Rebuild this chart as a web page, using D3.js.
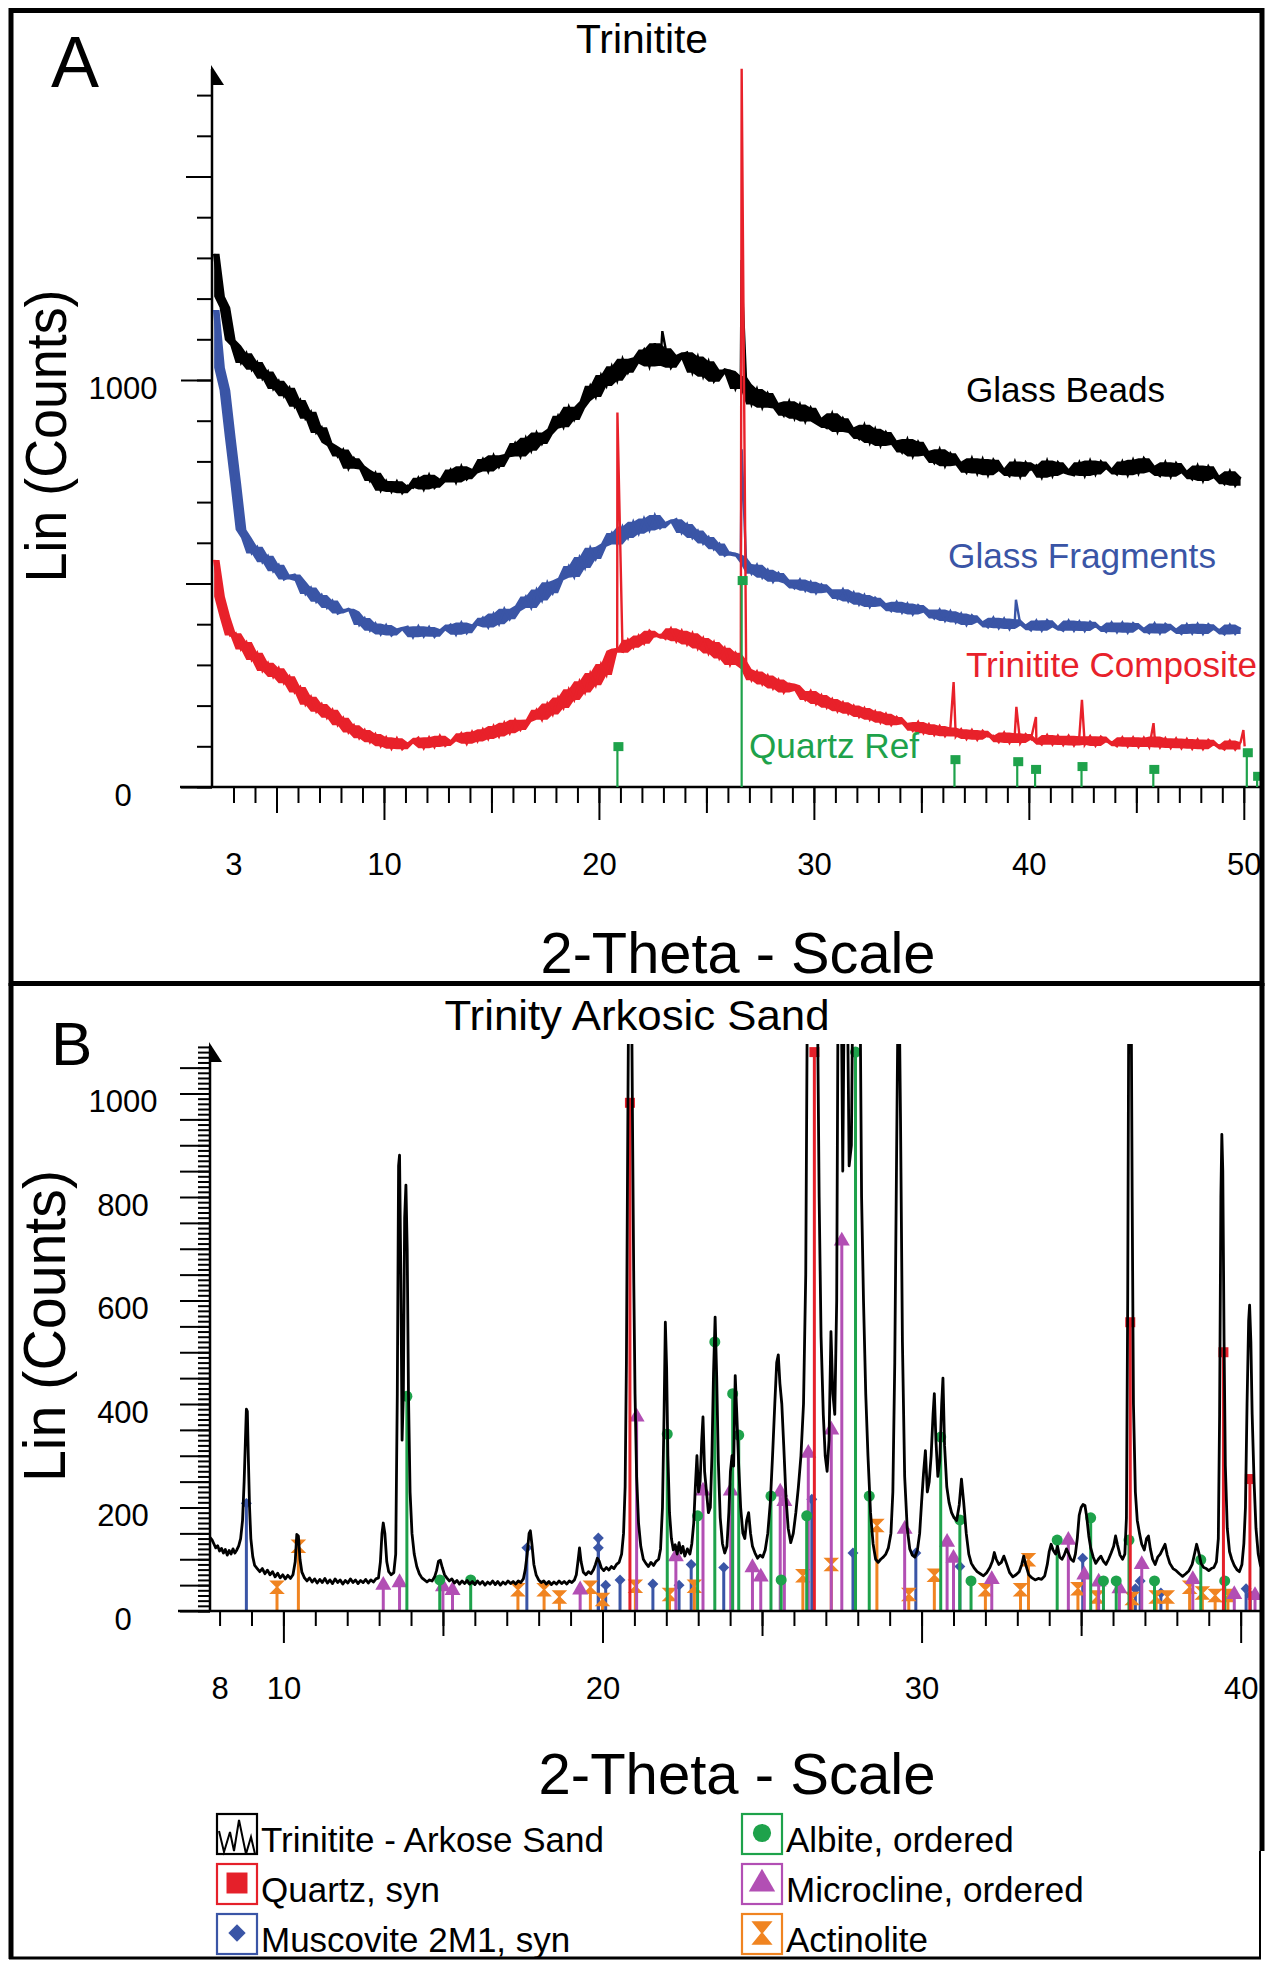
<!DOCTYPE html>
<html>
<head>
<meta charset="utf-8">
<script src="https://cdn.jsdelivr.net/npm/d3@7"></script>
<style>
  body { margin: 0; background: #fff; }
  text { font-family: "Liberation Sans", Arial, Helvetica, sans-serif; }
</style>
</head>
<body>
<div id="chart"></div>
<script>
// XRD patterns - A: Trinitite glass, B: Trinity arkosic sand

const width = 1270, height = 1961;
const font = "'Liberation Sans', Arial, Helvetica, sans-serif";

// ---------- panel A : scans on a 0.25 deg grid starting at 2.1 ----------
const aStart = 2.1, aStep = 0.25;

const beadsCounts = [
  1310,1205,1178,1098,1085,1042,1066,1025,1044,1003,1021,978,998,960,981,934,951,905,922,870,
  884,846,838,812,829,782,808,790,780,752,772,728,752,725,751,722,740,735,760,731,
  767,735,748,758,780,748,788,756,770,782,806,775,815,786,810,818,845,812,858,826,
  871,843,866,880,912,884,934,902,930,948,986,958,1012,985,1034,998,1052,1018,1040,1056,
  1075,1033,1090,1035,1078,1030,1050,1062,1068,1018,1058,1008,1046,996,1014,1026,1022,978,1010,990,
  940,978,932,968,944,930,912,948,905,940,898,932,908,890,882,918,872,906,884,870,
  855,890,845,880,838,872,852,840,822,855,812,848,826,814,796,830,788,820,800,790,
  772,808,770,806,766,804,784,776,764,800,762,798,780,790,760,802,764,798,782,770,
  766,798,764,802,768,800,784,780,768,800,766,804,770,808,790,774,764,798,762,796,
  778,770,756,790,752,788,766,758,744,776,740,762
];
const fragmentsCounts = [
  1172,1030,975,858,748,632,612,574,590,552,568,530,546,510,518,522,506,474,490,455,
  472,440,458,426,432,438,431,398,415,384,402,375,398,372,384,390,394,368,395,370,
  393,369,384,388,399,374,404,378,396,400,416,392,426,400,438,412,432,446,468,440,
  485,458,503,476,508,514,543,516,565,538,588,560,590,598,624,596,640,612,652,622,
  660,630,668,636,648,652,658,624,646,612,630,598,614,584,598,568,576,572,566,548,
  524,546,514,534,504,526,510,500,488,510,482,504,476,498,486,478,462,486,456,478,
  448,472,442,465,452,444,432,455,428,451,424,447,436,428,414,436,408,432,404,426,
  398,422,408,404,392,416,390,414,388,412,400,396,385,409,384,410,396,392,384,409,
  384,407,383,406,394,392,381,404,380,404,379,403,392,388,378,402,377,401,390,386,
  376,400,377,401,376,400,388,386,375,399,376,392
];
const compositeCounts = [
  558,468,418,372,378,338,356,312,330,285,305,270,292,255,272,232,246,202,222,185,
  204,170,190,152,170,134,152,120,140,110,130,100,122,94,120,93,106,110,121,95,
  122,98,126,101,112,116,132,106,136,112,142,118,150,124,158,132,165,140,160,166,
  190,165,205,178,220,194,240,214,260,232,280,250,302,275,335,340,330,362,342,372,
  352,384,370,374,364,390,358,384,350,378,340,366,328,356,316,342,300,330,312,290,
  262,284,252,274,242,264,232,254,250,236,214,236,204,226,195,216,186,208,180,200,
  172,194,165,186,158,180,152,172,158,154,138,160,132,154,128,150,125,146,124,142,
  118,140,116,138,124,126,110,134,108,132,108,130,118,116,104,128,104,126,103,126,
  102,125,104,125,101,124,112,110,100,122,99,122,98,121,98,124,97,120,96,119,
  95,118,94,117,93,116,104,102,92,114,92,110
];

// sharp reflections riding on the scans
const beadsPeakTheta = [22.95, 26.64, 26.70];
const beadsPeakCounts = [1120, 1295, 1180];
const fragmentsPeakTheta = [26.64, 39.40];
const fragmentsPeakCounts = [830, 460];
const compositePeakTheta = [20.86, 26.64, 36.50, 39.42, 40.33, 42.47, 45.80, 49.98, 50.04];
const compositePeakCounts = [920, 1765, 258, 197, 172, 214, 157, 140, 100];

// quartz reference pattern
const quartzRefTheta = [20.86, 26.64, 36.54, 39.46, 40.29, 42.45, 45.79, 50.14, 50.62];
const quartzRefCounts = [98, 506, 66, 61, 42, 49, 42, 83, 25];

const aXLabels = [3, 10, 20, 30, 40, 50];
const aYLabels = [0, 1000];

// ---------- panel B : arkosic sand scan ----------
const sandTheta = [
  7.70,7.76,7.82,7.88,7.94,8.00,8.06,8.12,8.18,8.24,
  8.30,8.36,8.42,8.48,8.54,8.60,8.66,8.72,8.77,8.81,
  8.84,8.87,8.90,8.94,8.98,9.04,9.10,9.18,9.26,9.34,
  9.42,9.50,9.58,9.66,9.74,9.82,9.90,9.98,10.06,10.14,
  10.22,10.30,10.37,10.42,10.47,10.52,10.58,10.66,10.74,10.82,
  10.90,10.98,11.06,11.14,11.22,11.30,11.38,11.46,11.54,11.62,
  11.70,11.78,11.86,11.94,12.02,12.10,12.18,12.26,12.34,12.42,
  12.50,12.58,12.66,12.74,12.82,12.90,12.98,13.04,13.09,13.13,
  13.18,13.24,13.30,13.38,13.46,13.52,13.57,13.61,13.64,13.68,
  13.72,13.76,13.80,13.84,13.88,13.92,13.97,14.03,14.10,14.18,
  14.26,14.34,14.42,14.50,14.58,14.66,14.74,14.80,14.86,14.92,
  14.98,15.05,15.12,15.20,15.28,15.36,15.44,15.52,15.60,15.68,
  15.76,15.84,15.92,16.00,16.08,16.16,16.24,16.32,16.40,16.48,
  16.56,16.64,16.72,16.80,16.88,16.96,17.04,17.12,17.20,17.28,
  17.36,17.44,17.52,17.58,17.64,17.70,17.74,17.79,17.85,17.92,
  18.00,18.08,18.16,18.24,18.32,18.40,18.48,18.56,18.64,18.72,
  18.80,18.88,18.96,19.04,19.12,19.18,19.24,19.28,19.33,19.40,
  19.48,19.56,19.64,19.72,19.78,19.84,19.90,19.96,20.04,20.12,
  20.20,20.28,20.36,20.44,20.52,20.60,20.66,20.71,20.75,20.79,
  20.83,20.90,20.94,20.98,21.02,21.07,21.13,21.20,21.28,21.36,
  21.44,21.52,21.60,21.68,21.76,21.82,21.88,21.93,21.97,22.01,
  22.05,22.10,22.16,22.22,22.28,22.34,22.40,22.46,22.52,22.58,
  22.66,22.74,22.80,22.86,22.91,22.96,23.01,23.06,23.11,23.15,
  23.20,23.26,23.32,23.38,23.43,23.48,23.53,23.58,23.63,23.69,
  23.76,23.83,23.90,23.96,24.01,24.06,24.11,24.16,24.21,24.27,
  24.33,24.40,24.46,24.52,24.58,24.64,24.70,24.78,24.86,24.94,
  25.02,25.10,25.18,25.26,25.33,25.40,25.46,25.51,25.56,25.62,
  25.68,25.75,25.82,25.90,25.98,26.06,26.14,26.22,26.30,26.37,
  26.43,26.52,26.62,26.72,26.79,26.85,26.92,26.98,27.04,27.10,
  27.16,27.22,27.28,27.34,27.39,27.47,27.53,27.59,27.66,27.73,
  27.80,27.86,28.06,28.12,28.18,28.25,28.32,28.40,28.48,28.56,
  28.64,28.72,28.80,28.88,28.96,29.04,29.10,29.16,29.22,29.28,
  29.34,29.40,29.47,29.55,29.63,29.71,29.79,29.87,29.94,30.00,
  30.06,30.12,30.18,30.24,30.30,30.36,30.40,30.45,30.51,30.57,
  30.63,30.67,30.72,30.79,30.86,30.94,31.02,31.10,31.18,31.25,
  31.32,31.40,31.48,31.56,31.64,31.74,31.84,31.94,32.04,32.14,
  32.22,32.28,32.34,32.42,32.50,32.58,32.66,32.76,32.86,32.96,
  33.06,33.14,33.20,33.27,33.36,33.46,33.56,33.66,33.76,33.86,
  33.94,34.00,34.06,34.12,34.20,34.26,34.33,34.40,34.47,34.54,
  34.60,34.68,34.76,34.82,34.88,34.94,35.00,35.06,35.12,35.18,
  35.24,35.30,35.38,35.46,35.54,35.62,35.70,35.78,35.86,35.94,
  36.02,36.08,36.14,36.22,36.30,36.37,36.42,36.46,36.50,36.56,
  36.60,36.64,36.70,36.76,36.83,36.90,36.98,37.05,37.11,37.17,
  37.24,37.32,37.40,37.48,37.56,37.63,37.70,37.78,37.88,37.98,
  38.08,38.18,38.28,38.38,38.48,38.56,38.62,38.68,38.76,38.84,
  38.92,39.00,39.08,39.16,39.24,39.30,39.34,39.38,39.41,39.44,
  39.48,39.52,39.58,39.65,39.72,39.80,39.88,39.96,40.04,40.10,
  40.15,40.20,40.25,40.28,40.32,40.36,40.42,40.48,40.55,40.62,
  40.70
];
const sandCounts = [
  142,138,130,122,126,116,121,112,119,108,
  117,110,120,112,118,126,140,175,250,330,
  390,386,300,200,140,105,88,82,76,82,
  72,79,70,76,66,73,64,70,62,69,
  63,70,95,148,145,100,75,64,58,64,
  56,62,54,61,55,63,54,60,53,62,
  55,60,52,59,54,62,55,60,53,59,
  55,61,54,60,56,62,64,95,150,170,
  150,95,76,70,74,110,420,860,881,650,
  330,420,760,823,700,420,230,150,110,86,
  72,64,60,56,60,58,66,78,96,98,
  84,70,64,58,62,54,59,52,58,53,
  59,52,57,51,58,52,57,50,56,52,
  58,51,57,50,56,52,58,53,57,52,
  58,55,62,80,110,150,155,128,90,70,
  60,55,58,52,57,51,56,52,58,53,
  57,52,58,55,60,70,100,122,95,75,
  70,76,72,80,90,102,96,84,78,84,
  79,86,82,90,94,110,150,240,480,900,
  1300,1300,950,640,420,260,170,125,100,92,
  86,94,88,96,100,120,200,380,558,470,
  300,190,140,118,128,110,132,112,125,106,
  120,110,130,170,240,300,230,250,330,375,
  270,230,190,200,300,460,568,450,290,180,
  130,112,125,190,270,300,280,455,380,280,
  200,150,140,175,190,150,125,112,102,108,
  104,118,150,210,300,400,480,495,440,400,
  320,220,160,132,150,190,240,300,400,650,
  1300,1400,1400,1300,800,530,380,300,270,330,
  540,420,380,600,1300,1300,850,1300,1300,860,
  900,1300,1300,800,600,420,300,190,130,100,
  94,100,104,110,122,150,230,480,900,1300,
  950,520,260,160,120,108,104,118,150,210,
  265,310,230,250,300,380,420,330,260,290,
  400,450,320,240,210,190,180,175,205,255,
  210,150,110,92,84,76,72,68,74,84,
  96,113,100,90,94,106,92,74,66,70,
  76,90,106,88,70,64,60,63,61,68,
  90,115,129,118,110,125,104,100,108,120,
  112,100,96,110,140,185,200,206,204,180,
  145,122,104,92,100,106,96,90,100,112,
  125,145,128,108,100,110,180,600,1300,1300,
  800,400,230,175,150,129,118,140,145,120,
  100,90,104,110,120,129,108,92,82,78,
  72,67,72,78,90,112,129,115,92,84,
  82,78,82,84,95,140,380,800,921,850,
  520,280,160,115,100,88,80,76,90,130,
  200,400,560,591,520,380,250,160,110,88,
  78
];

// reference patterns (stick positions and heights)
const quartzTheta = [20.86, 26.64, 36.54, 39.46, 40.29];
const quartzCounts = [982, 1080, 558, 500, 255];
const albiteTheta = [13.87, 14.90, 15.87, 22.03, 22.98, 23.52, 24.08, 24.27, 25.28, 25.60, 26.40, 27.93,
  28.36, 30.60, 31.20, 31.55, 34.25, 35.30, 35.70, 36.10, 36.50, 37.30, 38.75, 39.50];
const albiteCounts = [415, 60, 60, 342, 184, 520, 420, 340, 222, 60, 184, 1080,
  222, 336, 176, 58, 137, 180, 58, 58, 137, 58, 99, 58];
const microclineTheta = [13.13, 13.64, 15.00, 15.30, 19.30, 21.07, 22.30, 23.15, 24.02, 24.70, 24.96, 25.57,
  25.70, 26.45, 27.17, 27.50, 29.47, 30.80, 31.00, 32.20, 34.60, 35.10, 35.55, 36.20, 36.90, 38.50, 39.80, 40.45];
const microclineCounts = [50, 55, 47, 40, 41, 375, 105, 232, 232, 84, 66, 230,
  212, 305, 350, 715, 158, 133, 102, 61, 137, 70, 56, 43, 90, 61, 32, 30];
const muscoviteTheta = [8.84, 17.63, 19.87, 19.87, 20.10, 20.55, 21.58, 22.40, 22.78, 23.80, 26.56, 27.85,
  29.82, 31.20, 35.05, 36.70, 36.85, 37.50, 40.17, 40.30];
const muscoviteCounts = [208, 122, 141, 122, 50, 60, 52, 50, 90, 84, 216, 112,
  112, 86, 102, 43, 58, 35, 43, 30];
const actinoliteTheta = [9.80, 10.47, 17.35, 18.17, 18.65, 19.62, 20.00, 21.03, 22.10, 22.88, 26.28, 27.17,
  28.60, 29.60, 30.40, 32.00, 33.10, 33.35, 34.90, 35.50, 36.60, 37.35, 37.70, 38.40, 38.80, 39.20, 39.60];
const actinoliteCounts = [46, 125, 41, 41, 27, 46, 22, 48, 32, 48, 68, 90,
  165, 32, 69, 41, 41, 99, 43, 27, 24, 27, 27, 46, 35, 30, 30];

const bXLabels = [8, 10, 20, 30, 40];
const bYLabels = [0, 200, 400, 600, 800, 1000];

const col = {
  black: "#000", blue: "#3a55a6", red: "#e5202a", green: "#1ea24b",
  purple: "#b24fb4", orange: "#f08421"
};

const svg = d3.select("#chart")
  .append("svg")
  .attr("width", width)
  .attr("height", height)
  .attr("viewBox", [0, 0, width, height])
  .style("background", "#fff");

const xA = d3.scaleLinear().domain([2, 50.8]).range([212, 1261]);
const yA = d3.scaleLinear().domain([0, 1000]).range([787, 380]);
const xB = d3.scaleLinear().domain([7.7, 40.7]).range([210, 1263]);
const yB = d3.scaleLinear().domain([0, 1000]).range([1611, 1093.5]);

// ---- axis helpers ----
function bottomTicks(x, y0, values, size) {
  svg.append("g")
    .attr("transform", `translate(0,${y0})`)
    .call(d3.axisBottom(x).tickValues(values).tickSize(size).tickFormat(""))
    .call(g => g.select(".domain").remove())
    .call(g => g.selectAll("line").attr("stroke", "#000").attr("stroke-width", 2));
}
function leftTicks(y, x0, values, size) {
  svg.append("g")
    .attr("transform", `translate(${x0},0)`)
    .call(d3.axisLeft(y).tickValues(values).tickSize(size).tickFormat(""))
    .call(g => g.select(".domain").remove())
    .call(g => g.selectAll("line").attr("stroke", "#000").attr("stroke-width", 2));
}
function bottomLabels(x, y0, values) {
  svg.append("g")
    .attr("transform", `translate(0,${y0})`)
    .call(d3.axisBottom(x).tickValues(values).tickSize(0).tickPadding(66))
    .call(g => g.select(".domain").remove())
    .call(g => g.selectAll("text").attr("font-size", 31).attr("font-family", font).attr("fill", "#000"));
}
function leftLabels(y, values) {
  svg.append("g").selectAll("text")
    .data(values)
    .join("text")
    .attr("x", 123)
    .attr("y", d => y(d) + 8)
    .attr("dy", "0.35em")
    .attr("text-anchor", "middle")
    .attr("font-size", 31)
    .text(d => d);
}
function axisFrame(x, y, topY) {
  const x0 = x.range()[0], y0 = y.range()[0];
  svg.append("line").attr("x1", x0 - 32).attr("x2", x.range()[1]).attr("y1", y0).attr("y2", y0)
    .attr("stroke", "#000").attr("stroke-width", 2.5);
  svg.append("line").attr("x1", x0).attr("x2", x0).attr("y1", y0).attr("y2", topY + 4)
    .attr("stroke", "#000").attr("stroke-width", 2.5);
  svg.append("path")   // half arrow head on the intensity axis
    .attr("d", `M${x0 - 1},${topY} L${x0 - 1},${topY + 20} L${x0 + 12},${topY + 20} Z`)
    .attr("fill", "#000");
}
function text(x, y, str, size, fill, len, anchor) {
  const t = svg.append("text")
    .attr("x", x).attr("y", y)
    .attr("font-size", size)
    .attr("fill", fill || "#000")
    .attr("text-anchor", anchor || "start")
    .text(str);
  if (len) t.attr("textLength", len).attr("lengthAdjust", "spacingAndGlyphs");
  return t;
}

// ================= PANEL A =================
bottomTicks(xA, 787, d3.range(3, 51), 16);
bottomTicks(xA, 787, [5, 15, 25, 35, 45], 26);
bottomTicks(xA, 787, [10, 20, 30, 40, 50], 33);
bottomLabels(xA, 787, aXLabels);
leftTicks(yA, 212, d3.range(0, 1800, 100), 15);
leftTicks(yA, 212, [500, 1500], 26);
leftTicks(yA, 212, [0, 1000], 31);
leftLabels(yA, aYLabels);
axisFrame(xA, yA, 65);

const aTheta = d3.range(beadsCounts.length).map(i => aStart + aStep * i);
function scanPoints(counts, peakTheta, peakCounts) {
  return d3.zip(aTheta, counts)
    .concat(d3.zip(peakTheta, peakCounts))
    .sort((a, b) => a[0] - b[0]);
}
// noise band: shade between the neighbouring readings so the scatter reads as a band
function noiseBand(counts) {
  return counts.map((v, i) => {
    const w = counts.slice(Math.max(0, i - 1), i + 2);
    return [aTheta[i], d3.min(w), d3.max(w)];
  });
}
const lineA = d3.line().x(d => xA(d[0])).y(d => yA(d[1]));
const bandA = d3.area().x(d => xA(d[0])).y0(d => yA(d[1])).y1(d => yA(d[2]));

const scansA = [
  { counts: beadsCounts, pts: scanPoints(beadsCounts, beadsPeakTheta, beadsPeakCounts), color: col.black },
  { counts: fragmentsCounts, pts: scanPoints(fragmentsCounts, fragmentsPeakTheta, fragmentsPeakCounts), color: col.blue },
  { counts: compositeCounts, pts: scanPoints(compositeCounts, compositePeakTheta, compositePeakCounts), color: "#e8212a" }
];
const scanG = svg.append("g").selectAll("g")
  .data(scansA)
  .join("g");
scanG.append("path")
  .attr("d", d => bandA(noiseBand(d.counts)))
  .attr("fill", d => d.color)
  .attr("stroke", "none");
scanG.append("path")
  .attr("d", d => lineA(d.pts))
  .attr("fill", "none")
  .attr("stroke", d => d.color)
  .attr("stroke-width", 2.4)
  .attr("stroke-linejoin", "miter");

const qRef = d3.zip(quartzRefTheta, quartzRefCounts);
const qg = svg.append("g");
qg.selectAll("line").data(qRef).join("line")
  .attr("x1", d => xA(d[0])).attr("x2", d => xA(d[0]))
  .attr("y1", yA(0)).attr("y2", d => yA(d[1]))
  .attr("stroke", col.green).attr("stroke-width", 2.2);
qg.selectAll("rect").data(qRef).join("rect")
  .attr("x", d => xA(d[0]) - 4).attr("y", d => yA(d[1]) - 5)
  .attr("width", 10).attr("height", 9)
  .attr("fill", col.green);

text(51, 87, "A", 72);
text(642, 53, "Trinitite", 40, "#000", 132, "middle");
text(966, 402, "Glass Beads", 35, col.black, 199);
text(948, 568, "Glass Fragments", 35, col.blue, 268);
text(966, 677, "Trinitite Composite", 35, "#e8212a", 291);
text(749, 758, "Quartz Ref", 35, col.green, 170);
text(738, 973, "2-Theta - Scale", 57, "#000", 395, "middle");
svg.append("text")
  .attr("transform", "translate(66,436) rotate(-90)")
  .attr("text-anchor", "middle")
  .attr("font-size", 58)
  .attr("textLength", 293)
  .attr("lengthAdjust", "spacingAndGlyphs")
  .text("Lin (Counts)");

// ================= PANEL B =================
bottomTicks(xB, 1611, d3.range(8, 41), 15);
bottomTicks(xB, 1611, [15, 25, 35], 25);
bottomTicks(xB, 1611, [10, 20, 30, 40], 32);
bottomLabels(xB, 1611, bXLabels);
leftTicks(yB, 210, d3.range(0, 1100, 10), 12);
leftTicks(yB, 210, d3.range(0, 1100, 50), 30);
leftLabels(yB, bYLabels);

svg.append("clipPath").attr("id", "clipB")
  .append("rect").attr("x", 210).attr("y", 1044).attr("width", 1052).attr("height", 580);
const plotB = svg.append("g").attr("clip-path", "url(#clipB)");

const hourglass = "M-6,-6 L6,-6 L-6,6 L6,6 Z";
const phases = [
  { theta: muscoviteTheta, counts: muscoviteCounts, color: col.blue,
    sym: d3.symbol().type(d3.symbolSquare).size(60)(), rot: 45 },
  { theta: actinoliteTheta, counts: actinoliteCounts, color: col.orange, sym: hourglass, rot: 0 },
  { theta: microclineTheta, counts: microclineCounts, color: col.purple,
    sym: d3.symbol().type(d3.symbolTriangle).size(110)(), rot: 0 },
  { theta: albiteTheta, counts: albiteCounts, color: col.green,
    sym: d3.symbol().type(d3.symbolCircle).size(95)(), rot: 0 },
  { theta: quartzTheta, counts: quartzCounts, color: col.red,
    sym: d3.symbol().type(d3.symbolSquare).size(100)(), rot: 0 }
];

phases.forEach(p => {
  const sticks = d3.zip(p.theta, p.counts);
  const g = plotB.append("g");
  g.selectAll("line").data(sticks).join("line")
    .attr("x1", d => xB(d[0])).attr("x2", d => xB(d[0]))
    .attr("y1", yB(0)).attr("y2", d => yB(d[1]))
    .attr("stroke", p.color).attr("stroke-width", 3);
  g.selectAll("path").data(sticks).join("path")
    .attr("d", p.sym)
    .attr("transform", d => `translate(${xB(d[0])},${yB(d[1])}) rotate(${p.rot})`)
    .attr("fill", p.color)
    .attr("stroke", p.color)
    .attr("stroke-width", p.sym === hourglass ? 1.5 : 0);
});

const lineB = d3.line().x(d => xB(d[0])).y(d => yB(d[1]));
plotB.append("path")
  .attr("d", lineB(d3.zip(sandTheta, sandCounts)))
  .attr("fill", "none")
  .attr("stroke", "#000")
  .attr("stroke-width", 2.8)
  .attr("stroke-linejoin", "round");

axisFrame(xB, yB, 1042);

text(51, 1065, "B", 62);
text(637, 1030, "Trinity Arkosic Sand", 42, "#000", 385, "middle");
text(737, 1794, "2-Theta - Scale", 57, "#000", 397, "middle");
svg.append("text")
  .attr("transform", "translate(65,1326) rotate(-90)")
  .attr("text-anchor", "middle")
  .attr("font-size", 60)
  .attr("textLength", 312)
  .attr("lengthAdjust", "spacingAndGlyphs")
  .text("Lin (Counts)");

// ---- legend ----
const legendItems = [
  { label: "Trinitite - Arkose Sand", color: col.black, kind: "scan" },
  { label: "Quartz, syn", color: col.red, kind: "square" },
  { label: "Muscovite 2M1, syn", color: col.blue, kind: "diamond" },
  { label: "Albite, ordered", color: col.green, kind: "circle" },
  { label: "Microcline, ordered", color: col.purple, kind: "triangle" },
  { label: "Actinolite", color: col.orange, kind: "hourglass" }
];
const legendX = [217, 742], legendY = [1814, 1864, 1914];

const legend = svg.append("g").selectAll("g")
  .data(legendItems)
  .join("g")
  .attr("transform", (d, i) => `translate(${legendX[Math.floor(i / 3)]},${legendY[i % 3]})`);

legend.append("rect")
  .attr("x", 0).attr("y", 0).attr("width", 40).attr("height", 40)
  .attr("fill", "#fff").attr("stroke", d => d.color).attr("stroke-width", 2.2);

legend.append("path")
  .attr("d", d => {
    if (d.kind === "scan") return "M2,17 L7,38 L13,18 L17,37 L22,6 L29,40 L34,23 L38,40";
    if (d.kind === "hourglass") return "M-9,-11 L9,-11 L-9,11 L9,11 Z";
    const type = { square: d3.symbolSquare, diamond: d3.symbolSquare,
      circle: d3.symbolCircle, triangle: d3.symbolTriangle }[d.kind];
    const size = { square: 440, diamond: 150, circle: 260, triangle: 300 }[d.kind];
    return d3.symbol().type(type).size(size)();
  })
  .attr("transform", d => d.kind === "scan" ? null
    : `translate(20,${d.kind === "triangle" ? 20 : 19}) rotate(${d.kind === "diamond" ? 45 : 0})`)
  .attr("fill", d => d.kind === "scan" ? "none" : d.color)
  .attr("stroke", d => d.color)
  .attr("stroke-width", d => d.kind === "scan" ? 2 : (d.kind === "hourglass" ? 1.5 : 0));

legend.append("text")
  .attr("x", 44).attr("y", 38)
  .attr("font-size", 35)
  .text(d => d.label);

// ---- panel frames ----
const frame = svg.append("g").attr("stroke", "#000").attr("fill", "none");
frame.append("rect").attr("x", 11).attr("y", 10.5).attr("width", 1251).attr("height", 973)
  .attr("stroke-width", 5);
frame.append("line").attr("x1", 11).attr("x2", 11).attr("y1", 983).attr("y2", 1959).attr("stroke-width", 5);
frame.append("line").attr("x1", 1262).attr("x2", 1262).attr("y1", 983).attr("y2", 1851).attr("stroke-width", 5);
frame.append("line").attr("x1", 1260).attr("x2", 1260).attr("y1", 1851).attr("y2", 1958).attr("stroke-width", 2);
frame.append("line").attr("x1", 9).attr("x2", 1261).attr("y1", 1958).attr("y2", 1958).attr("stroke-width", 3);
</script>
</body>
</html>
